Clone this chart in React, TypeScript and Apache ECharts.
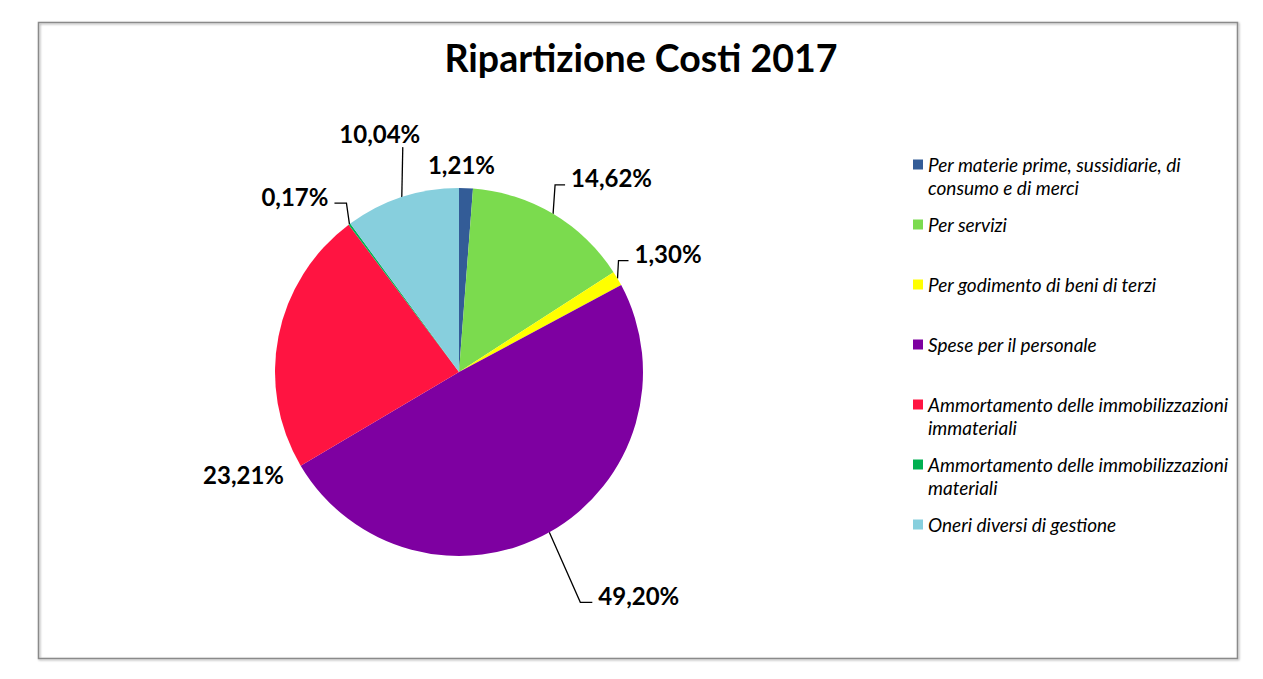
import React, { useEffect, useRef } from 'react';
import * as echarts from 'echarts';

// voci di costo (ordine della legenda e delle fette)
const categories = [
  'Per materie prime, sussidiarie, di consumo e di merci',
  'Per servizi',
  'Per godimento di beni di terzi',
  'Spese per il personale',
  'Ammortamento delle immobilizzazioni immateriali',
  'Ammortamento delle immobilizzazioni materiali',
  'Oneri diversi di gestione',
];

// testo della legenda spezzato come nell'originale
const legendLines = [
  ['Per materie prime, sussidiarie, di', 'consumo e di merci'],
  ['Per servizi'],
  ['Per godimento di beni di terzi'],
  ['Spese per il personale'],
  ['Ammortamento delle immobilizzazioni', 'immateriali'],
  ['Ammortamento delle immobilizzazioni', 'materiali'],
  ['Oneri diversi di gestione'],
];

const percentages = [1.21, 14.62, 1.3, 49.2, 23.21, 0.17, 10.04];

const colors = ['#335c97', '#7bdb4e', '#ffff00', '#7e00a1', '#ff1441', '#00b050', '#87cfdd'];

// linee guida in stile Excel: gomito (relativo al bordo della fetta) e coda orizzontale
const guides: Record<number, { ex: number; ey: number; tail: number }> = {
  1: { ex: 2, ey: -29, tail: 10 },
  2: { ex: 1, ey: -18, tail: 10 },
  3: { ex: 31, ey: 70, tail: 12 },
  5: { ex: -3, ey: -21, tail: -12 },
  6: { ex: 1, ey: -50, tail: 0 },
};
// etichette senza linea
const labelShift: Record<number, [number, number]> = { 0: [-44, 0], 4: [34, 143] };
const lineShow = [false, true, true, true, false, true, true];

const fmt = (v: number) => v.toFixed(2).replace('.', ',') + '%';

const App: React.FC = () => {
  const chartRef = useRef<HTMLDivElement>(null);

  useEffect(() => {
    if (!chartRef.current) return;
    const chart = echarts.init(chartRef.current, null, { renderer: 'svg' });

    const option = {
      animation: false,
      color: colors,
      title: {
        text: 'Ripartizione Costi 2017',
        left: 641,
        top: 38,
        padding: 0,
        textAlign: 'center',
        textStyle: { fontFamily: 'Lato', fontWeight: 'bold', fontSize: 37.5, color: '#000' },
      },
      legend: {
        orient: 'vertical',
        left: 913,
        top: 130,
        padding: 0,
        itemGap: -9,
        itemWidth: 10,
        itemHeight: 10,
        icon: 'rect',
        selectedMode: false,
        // riga vuota in testa: l'icona resta allineata alla prima riga
        formatter: (name: string) => {
          const lines = legendLines[categories.indexOf(name)];
          return lines.length > 1 ? ['', ...lines].join('\n') : lines[0];
        },
        textStyle: {
          fontFamily: 'Lato',
          fontStyle: 'italic',
          fontSize: 19,
          lineHeight: 23,
          color: '#000',
          backgroundColor: 'rgba(0,0,0,0)',
        },
        data: categories.map((name, i) => ({
          name,
          textStyle: { padding: legendLines[i].length > 1 ? 0 : [23, 0, 23, 0] },
        })),
      },
      graphic: [
        {
          type: 'rect',
          shape: { x: 38.5, y: 22.5, width: 1199, height: 636 },
          style: {
            fill: 'none',
            stroke: '#8a8a8a',
            lineWidth: 1.5,
            shadowBlur: 2,
            shadowOffsetX: 1,
            shadowOffsetY: 1,
            shadowColor: 'rgba(0,0,0,0.35)',
          },
          silent: true,
        },
      ],
      series: [
        {
          type: 'pie',
          center: [459, 372],
          radius: 184,
          startAngle: 90,
          clockwise: true,
          avoidLabelOverlap: false,
          emphasis: { disabled: true },
          itemStyle: { borderWidth: 0 },
          label: {
            show: true,
            position: 'outside',
            formatter: (p: any) => fmt(p.value),
            fontFamily: 'Lato',
            fontWeight: 'bold',
            fontSize: 24,
            color: '#000',
            distanceToLabelLine: 5,
          },
          labelLine: { length: 24, length2: 0, lineStyle: { color: '#000', width: 1.3 } },
          labelLayout: (p: any) => {
            const shift = labelShift[p.dataIndex];
            if (shift) return { dx: shift[0], dy: shift[1] };
            const g = guides[p.dataIndex];
            if (!g || !p.labelLinePoints) return {};
            const [x0, y0] = p.labelLinePoints[0];
            const ex = x0 + g.ex;
            const ey = y0 + g.ey;
            const tx = ex + g.tail;
            const points = [[x0, y0], [ex, ey], [tx, ey]];
            if (g.tail === 0) {
              return { x: ex - 23, y: ey - 14, align: 'center', verticalAlign: 'middle', labelLinePoints: points };
            }
            return {
              x: tx + Math.sign(g.tail) * 6,
              y: ey - 7,
              align: g.tail > 0 ? 'left' : 'right',
              verticalAlign: 'middle',
              labelLinePoints: points,
            };
          },
          data: categories.map((name, i) => ({
            name,
            value: percentages[i],
            labelLine: { show: lineShow[i] },
          })),
        },
      ],
    };

    chart.setOption(option as any);
    return () => chart.dispose();
  }, []);

  return (
    <div
      ref={chartRef}
      style={{ position: 'fixed', left: 0, top: 0, width: 1263, height: 679, background: '#fff' }}
    />
  );
};

export default App;
